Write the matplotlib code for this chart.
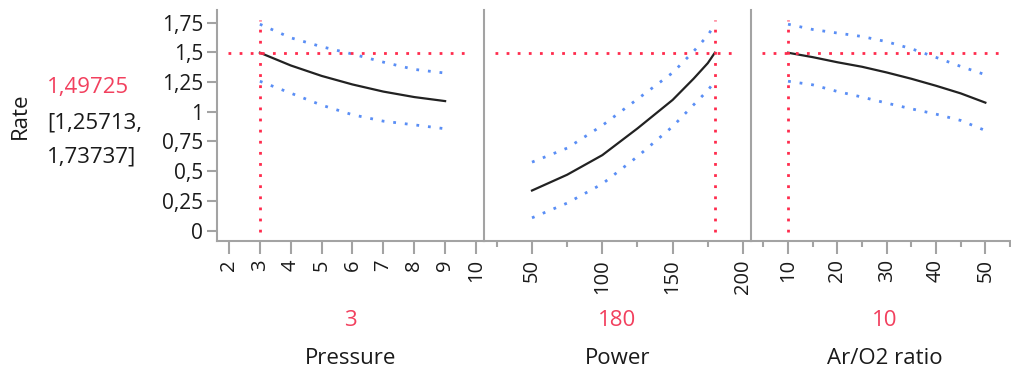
import matplotlib
matplotlib.use("Agg")
import matplotlib.pyplot as plt
from matplotlib.ticker import FixedLocator, FuncFormatter

plt.rcParams["font.family"] = ["Open Sans", "DejaVu Sans"]

response = "Rate"
pred_value = 1.49725
pred_low = 1.25713
pred_high = 1.73737

pressure_x = [3, 4, 5, 6, 7, 8, 9]
pressure_mean = [1.49725, 1.39, 1.302, 1.23, 1.17, 1.124, 1.09]
pressure_low = [1.25713, 1.157, 1.056, 0.975, 0.921, 0.89, 0.857]
pressure_high = [1.73737, 1.623, 1.548, 1.486, 1.418, 1.357, 1.326]

power_x = [50, 75, 100, 125, 150, 165, 175, 180]
power_mean = [0.337, 0.47, 0.635, 0.86, 1.10, 1.28, 1.41, 1.49725]
power_low = [0.107, 0.231, 0.393, 0.623, 0.876, 1.06, 1.18, 1.25713]
power_high = [0.576, 0.694, 0.885, 1.107, 1.329, 1.51, 1.643, 1.73737]

ratio_x = [10, 15, 20, 25, 30, 35, 40, 45, 50]
ratio_mean = [1.49725, 1.46, 1.417, 1.379, 1.331, 1.278, 1.219, 1.155, 1.077]
ratio_low = [1.25713, 1.227, 1.171, 1.124, 1.073, 1.025, 0.98, 0.927, 0.842]
ratio_high = [1.73737, 1.693, 1.663, 1.634, 1.59, 1.531, 1.458, 1.382, 1.312]

factor_names = ["Pressure", "Power", "Ar/O2 ratio"]
factor_current = [3, 180, 10]

y_ticks = [0, 0.25, 0.5, 0.75, 1, 1.25, 1.5, 1.75]
pressure_ticks = [2, 3, 4, 5, 6, 7, 8, 9, 10]
power_ticks = [50, 100, 150, 200]
power_minor = [25, 75, 125, 175]
ratio_ticks = [10, 20, 30, 40, 50]
ratio_minor = [5, 15, 25, 35, 45, 55]

# ---- styling ----
RED_TEXT = "#f2405e"
RED_LINE = "#ff2b4d"
BLUE = "#5a8ef5"
GRAY = "#a3a3a3"
INK = "#1a1a1a"
W, H = 1012, 373


def comma(v, pos=None):
    s = f"{v:g}"
    return s.replace(".", ",")


fig = plt.figure(figsize=(W / 100, H / 100), dpi=100)

bottom = (H - 241) / H
height = 231 / H
ax1 = fig.add_axes([217 / W, bottom, 267 / W, height])
ax2 = fig.add_axes([484 / W, bottom, 267 / W, height])
ax3 = fig.add_axes([751 / W, bottom, 261 / W, height])

panels = [
    (ax1, pressure_x, pressure_mean, pressure_low, pressure_high, (1.611, 10.26), pressure_ticks, [], 0.936),
    (ax2, power_x, power_mean, power_low, power_high, (15.88, 205.7), power_ticks, power_minor, 0.933),
    (ax3, ratio_x, ratio_mean, ratio_low, ratio_high, (2.49, 55.4), ratio_ticks, ratio_minor, 0.958),
]

for i, (ax, x, m, lo, hi, xlim, major, minor, hend) in enumerate(panels):
    ax.plot(x, hi, color=BLUE, lw=2, linestyle=(0, (1, 3.2)))
    ax.plot(x, lo, color=BLUE, lw=2, linestyle=(0, (1, 3.2)))
    ax.plot(x, m, color="#222222", lw=1.6)
    ax.axhline(pred_value, xmin=0.041, xmax=hend, color=RED_LINE, lw=2,
               linestyle=(0, (1, 3)))
    ax.axvline(factor_current[i], ymin=0.039, ymax=0.957, color=RED_LINE, lw=2,
               linestyle=(0, (1, 3)))

    ax.set_xlim(*xlim)
    ax.set_ylim(-0.088, 1.857)
    for side in ["top", "right"]:
        ax.spines[side].set_visible(False)
    for side in ["left", "bottom"]:
        ax.spines[side].set_color(GRAY)
        ax.spines[side].set_linewidth(1.5)

    ax.xaxis.set_major_locator(FixedLocator(major))
    ax.xaxis.set_minor_locator(FixedLocator(minor))
    ax.tick_params(axis="x", which="major", length=9, width=1.5, color=GRAY,
                   labelsize=14.5, labelcolor=INK, labelrotation=90, pad=4)
    ax.tick_params(axis="x", which="minor", length=4, width=1.5, color=GRAY)

    if ax is ax1:
        ax.yaxis.set_major_locator(FixedLocator(y_ticks))
        ax.yaxis.set_major_formatter(FuncFormatter(comma))
        ax.tick_params(axis="y", length=7, width=1.5, color=GRAY,
                       labelsize=15, labelcolor=INK, pad=3)
    else:
        ax.set_yticks([])

    # current setting and factor name under each panel
    pos = ax.get_position()
    cx = pos.x0 + (267 / W) / 2
    fig.text(cx, 1 - 320 / H, comma(factor_current[i]), color=RED_TEXT,
             fontsize=16, ha="center", va="center")
    fig.text(cx, 1 - 358 / H, factor_names[i], fontsize=16, color=INK,
             ha="center", va="center")

# response label and predicted value with interval
fig.text(20 / W, 1 - 115.5 / H, response, rotation=90, fontsize=16,
         ha="center", va="center", color=INK)
fig.text(47 / W, 1 - 88 / H, comma(pred_value), color=RED_TEXT, fontsize=16,
         ha="left", va="center")
fig.text(47 / W, 1 - 123 / H, "[" + comma(pred_low) + ",", fontsize=16,
         ha="left", va="center", color=INK)
fig.text(47 / W, 1 - 157 / H, comma(pred_high) + "]", fontsize=16,
         ha="left", va="center", color=INK)

fig.savefig("out.png", dpi=100)
